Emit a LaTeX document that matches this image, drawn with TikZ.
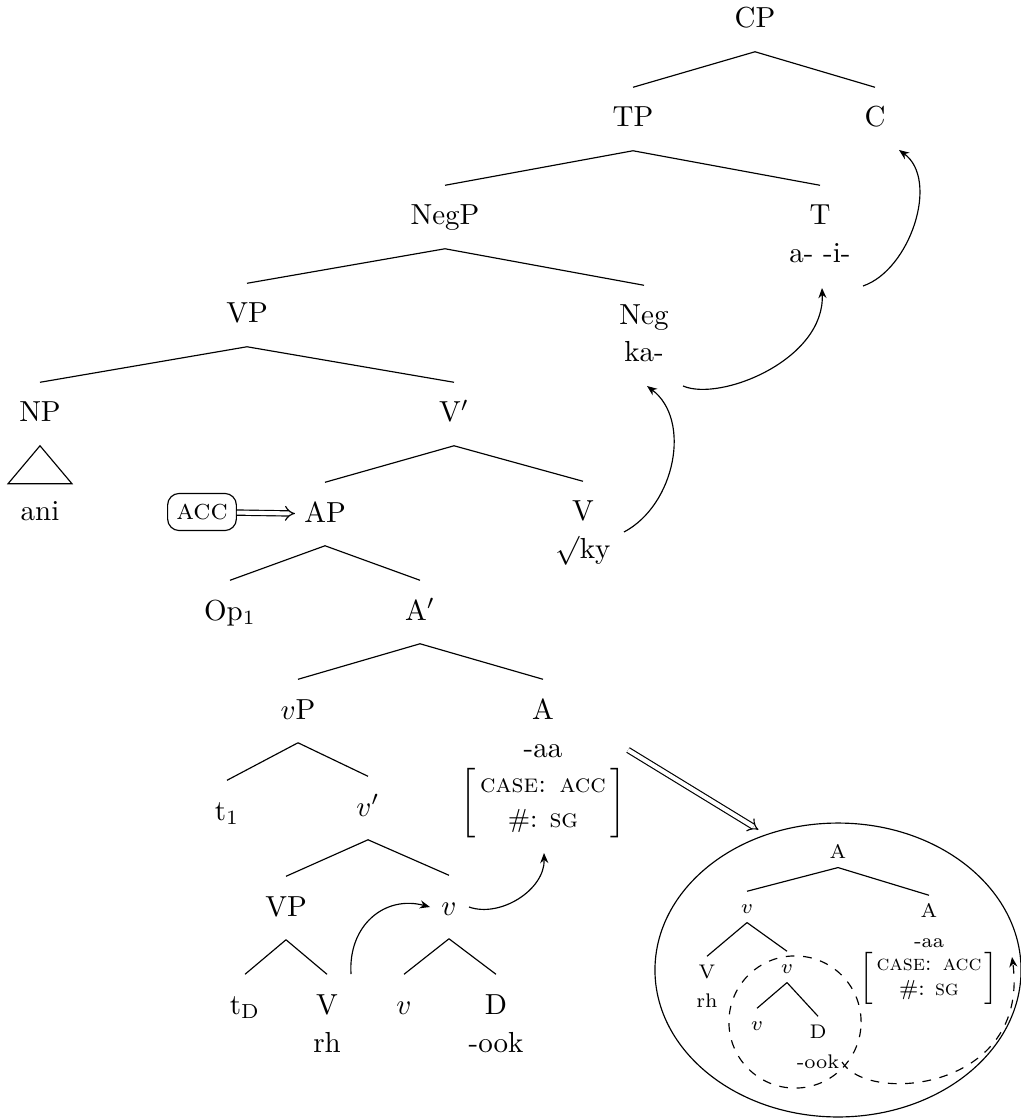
\documentclass[tikz,border=0pt]{standalone}
\usetikzlibrary{arrows.meta,shapes.geometric}
\tikzset{
  lab/.style={anchor=base, inner sep=0pt, text height=13.5pt, text depth=8pt},
  head/.style={anchor=base, inner sep=0pt, text height=13.5pt},
  sub/.style={anchor=base, inner sep=0pt},
  mini/.style={anchor=base, inner sep=0pt, font=\fontsize{6.8}{8}\selectfont, text height=7.3pt, text depth=3.1pt},
  minihead/.style={anchor=base, inner sep=0pt, font=\fontsize{6.8}{8}\selectfont, text height=7.3pt},
  minisub/.style={anchor=base, inner sep=0pt, font=\fontsize{6.8}{8}\selectfont},
  mv/.style={-{Stealth[length=3.5pt,width=2.8pt]}},
  big/.style={double, double distance=1.4pt, -{Implies}},
}
\newcommand{\featacc}{$\left[\mbox{\begin{tabular}{@{\,}c@{\,}}\textsc{case: acc}\\ \#: \textsc{sg}\end{tabular}}\right]$}

\begin{document}
\begin{tikzpicture}[x=0.345pt, y=-0.345pt]
  \useasboundingbox (0,0) rectangle (1020,1119);

  % Les noeuds
  \node[lab] (cp) at (755,28) {CP};
  \node[lab] (tp) at (633,127) {TP};
  \node[lab] (c) at (875,127) {C};
  \node[lab] (negp) at (445,225) {NegP};
  \node[head] (t) at (820,225) {T};
  \node[sub] (tm) at (820,263) {a- -i-};
  \node[lab] (vp) at (247,323) {VP};
  \node[head] (neg) at (644,325) {Neg};
  \node[sub] (negm) at (644,362) {ka-};
  \node[lab] (np) at (40,422) {NP};
  \node[lab] (vbar) at (454,422) {V$'$};
  \node[sub] (ani) at (40,521) {ani};
  \node[draw, rounded corners=4pt, inner xsep=3pt, minimum height=12.8pt] (acc) at (202,512) {\textsc{acc}};
  \node[lab] (ap) at (325,522) {AP};
  \node[head] (v) at (583,521) {V};
  \node[sub] (vm) at (583,558) {$\surd$ky};
  \node[lab] (op) at (230,620) {Op$_1$};
  \node[lab] (abar) at (420,620) {A$'$};
  \node[lab] (vsp) at (298,719) {$v$P};
  \node[head] (a) at (543,719) {A};
  \node[sub] (am) at (543,757) {-aa};
  \node[font=\small, inner sep=0pt] (afeat) at (543,803) {\renewcommand{\arraystretch}{1.1}\featacc};
  \node[lab] (tone) at (227,820) {t$_1$};
  \node[lab] (vsbar) at (368,816) {$v'$};
  \node[lab] (vplow) at (286,916) {VP};
  \node[lab] (vs) at (449,915) {$v$};
  \node[lab] (td) at (245,1014) {t$_{\mathrm{D}}$};
  \node[head] (vroot) at (327,1014) {V};
  \node[sub] (vrootm) at (327,1052) {rh};
  \node[lab] (vslow) at (404,1014) {$v$};
  \node[head] (d) at (496,1014) {D};
  \node[sub] (dm) at (496,1052) {-ook};

  % Le zoom
  \node[draw, ellipse, inner sep=0pt, minimum width=126.3pt, minimum height=101.4pt] (zoom) at (838,970) {};
  \draw[dashed] (795,1022) circle[radius=22.8pt];
  \node[mini] (za) at (838,858) {A};
  \node[mini] (zv) at (747,913) {$v$};
  \node[minihead] (za2) at (929,917) {A};
  \node[minisub] (za2m) at (929,947) {-aa};
  \node[font=\fontsize{7.5}{8.5}\selectfont, inner sep=0pt] (zfeat) at (929,978) {\featacc};
  \node[minihead] (zvv) at (707,978) {V};
  \node[minisub] (zvvm) at (707,1007) {rh};
  \node[mini] (zv2) at (787,973) {$v$};
  \node[minihead] (zv3) at (757,1030) {$v$};
  \node[minihead] (zd) at (818,1038) {D};
  \node[minisub] (zdm) at (818,1068) {-ook};

  % Les branches
  \foreach \p/\f in {cp/tp, cp/c, tp/negp, tp/t, negp/vp, negp/neg, vp/np, vp/vbar,
                     vbar/ap, vbar/v, ap/op, ap/abar, abar/vsp, abar/a, vsp/tone, vsp/vsbar,
                     vsbar/vplow, vsbar/vs, vplow/td, vplow/vroot, vs/vslow, vs/d,
                     za/zv, za/za2, zv/zvv, zv/zv2, zv2/zv3, zv2/zd} {
    \draw (\p.south) -- (\f.north);
  }
  \draw (np.south) -- ++(-32,38) -- ++(64,0) -- cycle;

  % Les mouvements
  \draw[big, shorten >=3pt] (acc) -- (ap);
  \coordinate (aaOut) at (628,750);
  \draw[big, shorten >=3pt] (aaOut) -- (zoom.118);
  \coordinate (kyOut) at (624,532);
  \coordinate (negIn) at (647,386);
  \draw[mv] (kyOut) .. controls (675,505) and (692,420) .. (negIn);
  \coordinate (negOut) at (683,386);
  \coordinate (tIn) at (822,288);
  \draw[mv] (negOut) .. controls (720,402) and (825,360) .. (tIn);
  \coordinate (tOut) at (863,286);
  \coordinate (cIn) at (899,150);
  \draw[mv] (tOut) .. controls (910,270) and (940,180) .. (cIn);
  \coordinate (rhOut) at (351,974);
  \coordinate (vsIn) at (430,907);
  \draw[mv] (rhOut) .. controls (348,925) and (385,895) .. (vsIn);
  \coordinate (vsOut) at (469,907);
  \coordinate (featIn) at (544,853);
  \draw[mv] (vsOut) .. controls (500,918) and (545,890) .. (featIn);
  \coordinate (ookOut) at (842,1062);
  \coordinate (zfeatIn) at (1012,957);
  \draw[mv, dashed] (ookOut) .. controls (868,1105) and (1030,1090) .. (zfeatIn);
\end{tikzpicture}
\end{document}
